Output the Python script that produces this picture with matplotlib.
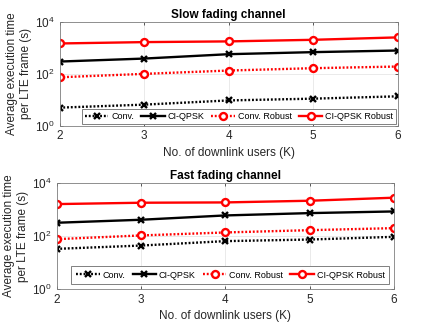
import matplotlib
matplotlib.use("Agg")
import matplotlib.pyplot as plt
from matplotlib.ticker import FixedLocator, NullLocator

plt.rcParams['font.family'] = ['Liberation Sans', 'DejaVu Sans']

users = [2, 3, 4, 5, 6]
slow_conv = [4.9, 6.4, 9.3, 10.9, 13.4]
slow_ciqpsk = [296, 386, 570, 684, 790]
slow_conv_robust = [73, 99, 133, 164, 190]
slow_ciqpsk_robust = [1480, 1670, 1780, 2050, 2540]

fast_conv = [32.7, 43.6, 64, 73.6, 93]
fast_ciqpsk = [316, 410, 597, 731, 845]
fast_conv_robust = [76, 105, 136, 166, 198]
fast_ciqpsk_robust = [1600, 1800, 1850, 2140, 2790]

labels = ['Conv.', 'CI-QPSK', 'Conv. Robust', 'CI-QPSK Robust']
titles = ['Slow fading channel', 'Fast fading channel']
xlabel = 'No. of downlink users (K)'
ylabel = 'Average execution time\nper LTE frame (s)'

fig = plt.figure(figsize=(4.36, 3.26), dpi=100)
W, H = 436, 326
boxes = [(59.5, 22, 397.5, 125.5), (56.5, 183, 394, 289)]
data = [
    (slow_conv, slow_ciqpsk, slow_conv_robust, slow_ciqpsk_robust),
    (fast_conv, fast_ciqpsk, fast_conv_robust, fast_ciqpsk_robust),
]
dot = (0, (0.8, 0.8))
for i, (box, series) in enumerate(zip(boxes, data)):
    x0, y0, x1, y1 = box
    ax = fig.add_axes([x0 / W, 1 - y1 / H, (x1 - x0) / W, (y1 - y0) / H])
    styles = [
        dict(color='black', linestyle=dot, marker='x', mfc='none'),
        dict(color='black', linestyle='-', marker='x', mfc='none'),
        dict(color='red', linestyle=dot, marker='o', mfc='white'),
        dict(color='red', linestyle='-', marker='o', mfc='white'),
    ]
    for s, lab, st in zip(series, labels, styles):
        ax.plot(users, s, label=lab, linewidth=1.7, markersize=5, markeredgewidth=1.7,
                dash_capstyle='butt', **st)
    ax.set_yscale('log')
    ax.set_ylim(1, 1e4)
    ax.set_xlim(2, 6)
    ax.yaxis.set_major_locator(FixedLocator([1, 1e2, 1e4]))
    ax.yaxis.set_minor_locator(NullLocator())
    ax.set_xticks(users)
    ax.grid(True, color='#e6e6e6', linewidth=0.6)
    ax.set_axisbelow(True)
    for sp in ax.spines.values():
        sp.set_color('#808080')
        sp.set_linewidth(0.6)
    ax.tick_params(direction='in', length=2.5, width=0.6, color='#404040',
                   labelsize=8.5, labelcolor='#262626', top=True, right=True)
    ax.set_title(titles[i], fontsize=8.5, fontweight='bold', pad=3)
    ax.set_xlabel(xlabel, fontsize=8.5, color='#262626', labelpad=3)
    ax.set_ylabel(ylabel, fontsize=8.5, color='#262626', labelpad=2)
    leg = ax.legend(loc='lower right', ncol=4, fontsize=6.5, frameon=True, fancybox=False,
                    edgecolor='#808080', handlelength=2.6, handletextpad=0.3,
                    columnspacing=0.8, borderpad=0.3 if i == 0 else 0.55,
                    borderaxespad=0.2 if i == 0 else 0.5, framealpha=1)
    leg.get_frame().set_linewidth(0.7)

fig.savefig('out.png', dpi=100)
